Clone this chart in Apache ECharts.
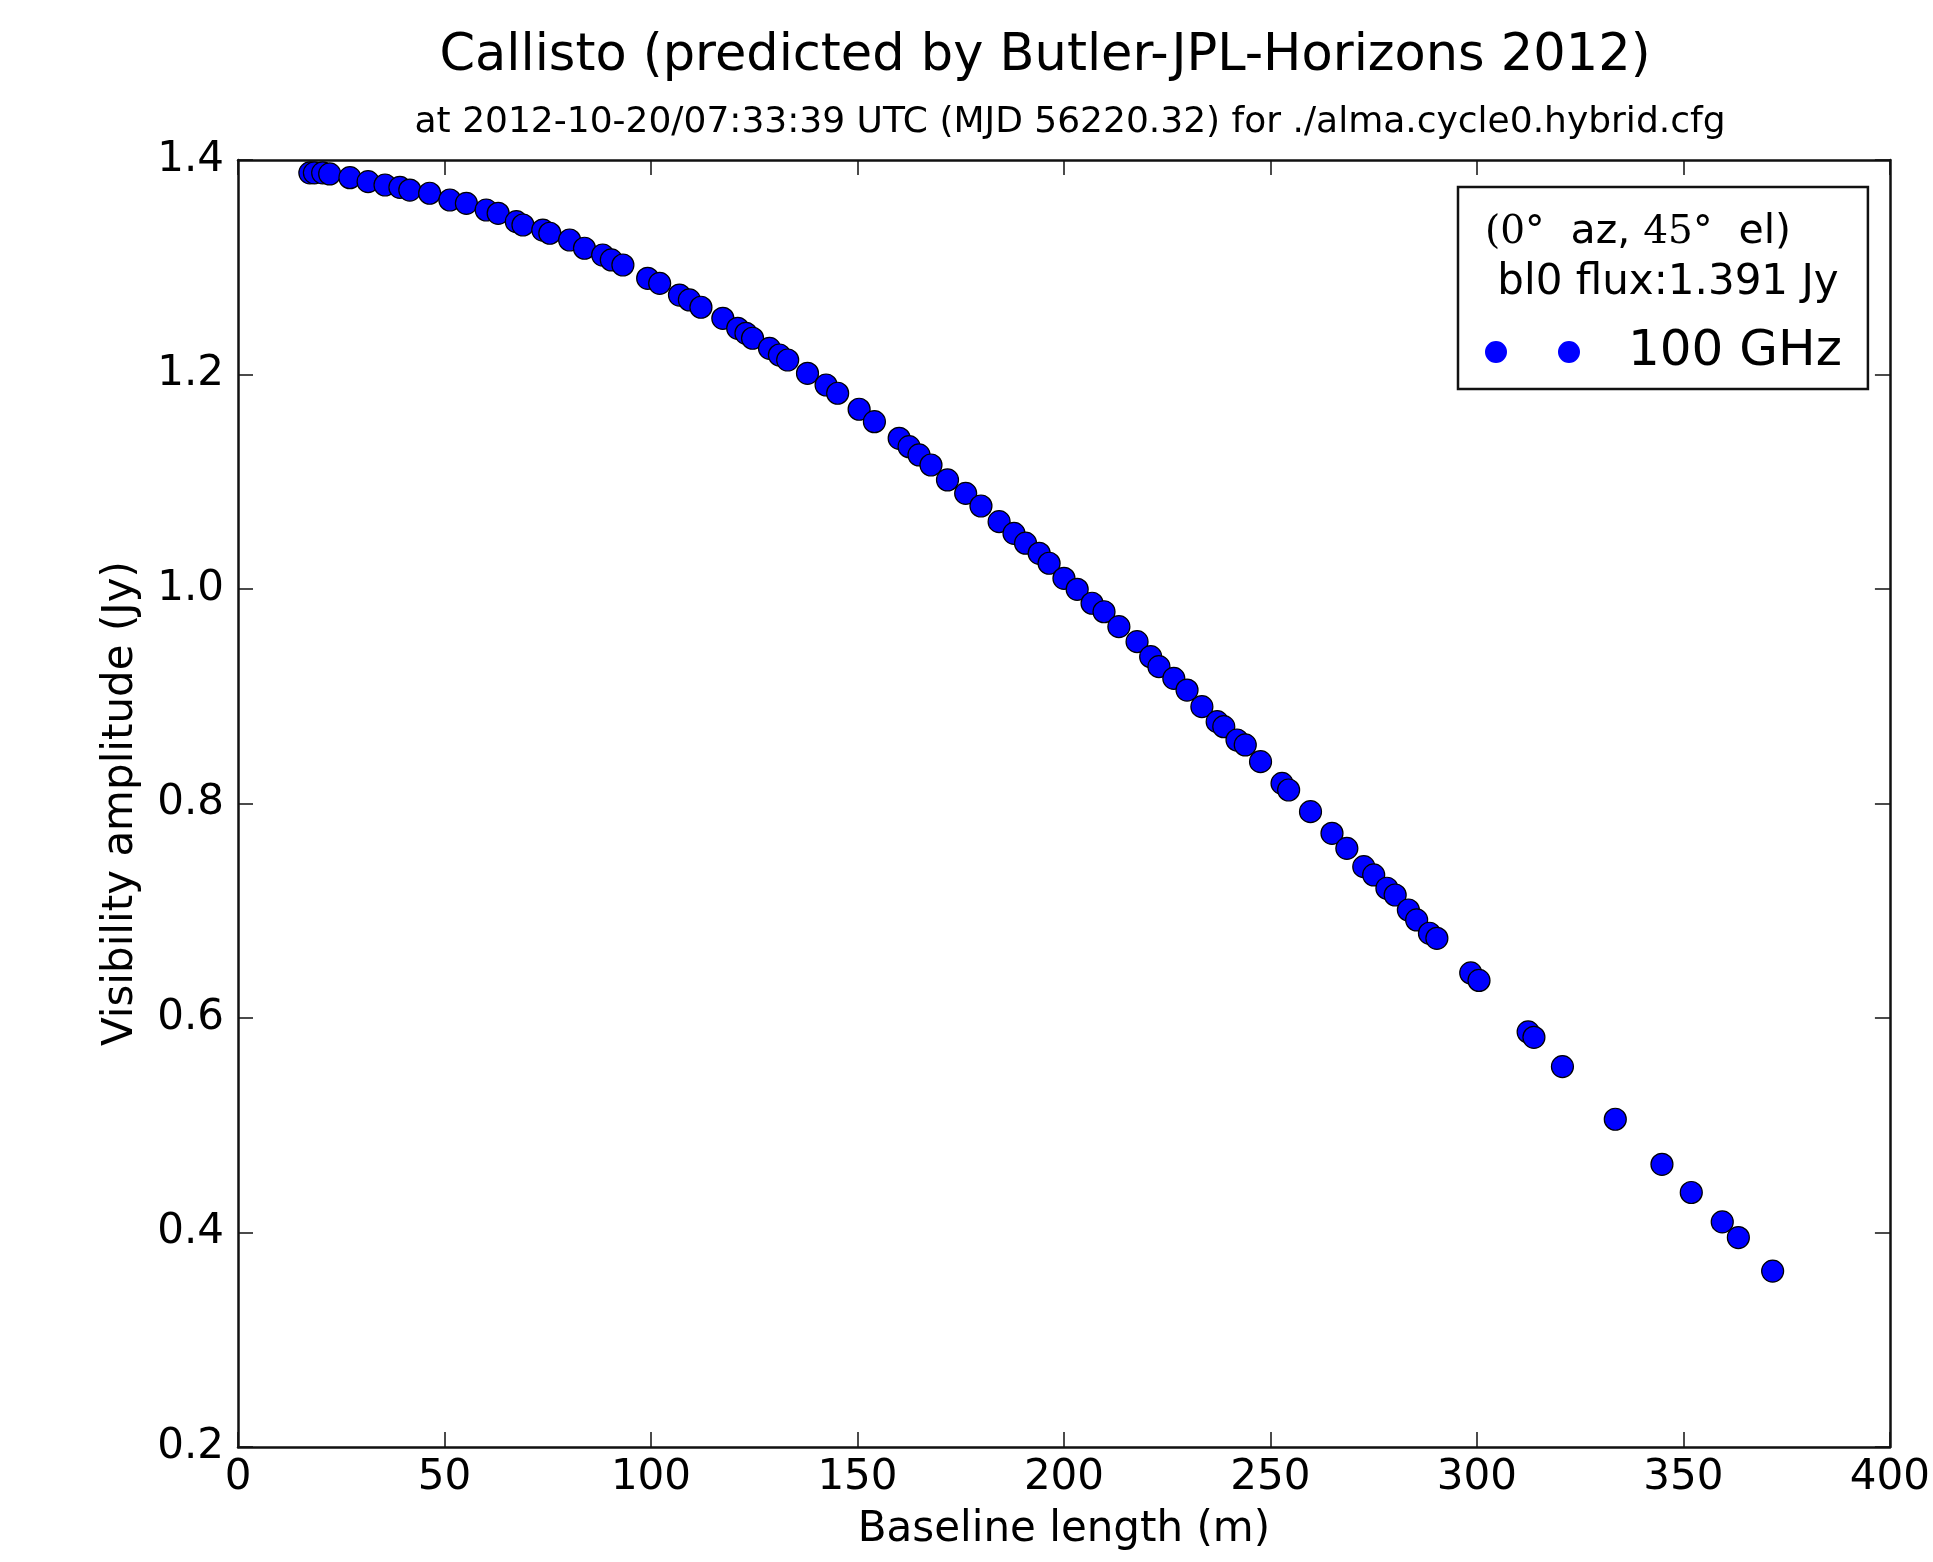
<!DOCTYPE html>
<html>
<head>
<meta charset="utf-8">
<script src="https://cdn.jsdelivr.net/npm/echarts@6/dist/echarts.min.js"></script>
<style>html,body{margin:0;padding:0;background:#fff}#c{width:1933px;height:1562px}</style>
</head>
<body>
<div id="c"></div>
<script>
// Baseline length (m)
const baselines = [17.4, 18.5, 20.5, 22.2, 27.1, 31.5, 35.6, 39.2, 41.6, 46.4, 51.3, 55.3, 60.1, 63.0, 67.4, 69.0, 73.8, 75.5, 80.3, 83.9,
  88.3, 90.4, 93.2, 99.2, 102.1, 106.9, 109.3, 112.1, 117.4, 121.0, 123.0, 124.6, 128.7, 131.1, 133.1, 137.9, 142.4, 145.2, 150.4, 154.1,
  160.1, 162.5, 164.9, 167.8, 171.8, 176.2, 179.9, 184.3, 187.9, 190.7, 194.0, 196.4, 200.0, 203.2, 206.8, 209.7, 213.3, 217.7,
  221.0, 223.0, 226.6, 229.8, 233.4, 237.1, 238.7, 241.9, 243.9, 247.6, 252.8, 254.4, 259.7, 264.9, 268.5, 272.6, 275.0, 278.2, 280.2,
  283.4, 285.4, 288.5, 290.3,
  298.5, 300.5, 312.4, 313.8, 320.7, 333.5, 344.8, 351.9, 359.4, 363.3, 371.6];
// Visibility amplitude (Jy)
const amplitudes = [1.388, 1.388, 1.388, 1.387, 1.3835, 1.3798, 1.3767, 1.3745, 1.372, 1.369, 1.3627, 1.3596, 1.3534, 1.3503, 1.3425, 1.3394, 1.3347, 1.3317, 1.3254, 1.3177,
  1.3114, 1.3068, 1.3021, 1.2897, 1.285, 1.2741, 1.2695, 1.2627, 1.2524, 1.2431, 1.2384, 1.2338, 1.2244, 1.2182, 1.2135, 1.2011, 1.1902, 1.1825, 1.1676, 1.156,
  1.1405, 1.1327, 1.125, 1.1156, 1.1017, 1.0892, 1.0774, 1.0628, 1.0519, 1.0427, 1.0333, 1.024, 1.01, 0.9997, 0.9867, 0.9788, 0.9649, 0.9509,
  0.9369, 0.9276, 0.9167, 0.9058, 0.8903, 0.8763, 0.8716, 0.8592, 0.8546, 0.839, 0.8188, 0.8126, 0.7924, 0.7722, 0.7582, 0.7411, 0.7334, 0.721, 0.7147,
  0.7007, 0.6914, 0.679, 0.6743,
  0.642, 0.635, 0.587, 0.582, 0.5547, 0.5056, 0.4636, 0.4373, 0.4099, 0.3953, 0.364];
const xTicks = ['0', '50', '100', '150', '200', '250', '300', '350', '400'];
const yTicks = ['0.2', '0.4', '0.6', '0.8', '1.0', '1.2', '1.4'];
const seriesName = '100 GHz';
const titleText = 'Callisto (predicted by Butler-JPL-Horizons 2012)';
const subtitleText = 'at 2012-10-20/07:33:39 UTC (MJD 56220.32) for ./alma.cycle0.hybrid.cfg';
const legendLine1 = ['(0°', '  az, ', '45°', '  el)'];
const legendLine2 = ' bl0 flux:1.391 Jy';

const points = baselines.map((b, i) => [b, amplitudes[i]]);
const FONT = 'DejaVu Sans';
const chart = echarts.init(document.getElementById('c'), null, {renderer: 'canvas'});

const axisCommon = {
  axisLine: {show: true, onZero: false, lineStyle: {color: '#111', width: 2.5}},
  axisTick: {show: true, inside: true, length: 15, lineStyle: {color: '#111', width: 1.5}},
  splitLine: {show: false}
};

chart.setOption({
  animation: false,
  backgroundColor: '#fff',
  title: [
    {text: titleText, left: 1040, top: 26, textAlign: 'center',
     textStyle: {fontFamily: FONT, fontSize: 51, fontWeight: 'normal', color: '#000'}},
    {text: subtitleText, left: 1065, top: 100, textAlign: 'center',
     textStyle: {fontFamily: FONT, fontSize: 36, fontWeight: 'normal', color: '#000'}}
  ],
  grid: {left: 238, right: 41, top: 160, bottom: 115, containLabel: false},
  xAxis: [
    Object.assign({}, axisCommon, {
      type: 'value', position: 'bottom', min: 0, max: 400, interval: 50,
      name: 'Baseline length (m)', nameLocation: 'middle', nameGap: 62,
      nameTextStyle: {fontFamily: FONT, fontSize: 42, color: '#000'},
      axisLabel: {margin: 10, fontFamily: FONT, fontSize: 42, color: '#000',
        formatter: (v) => xTicks[Math.round(v / 50)]}
    }),
    Object.assign({}, axisCommon, {
      type: 'value', position: 'top', min: 0, max: 400, interval: 50,
      axisLabel: {show: false}
    })
  ],
  yAxis: [
    Object.assign({}, axisCommon, {
      type: 'value', position: 'left', min: 0.2, max: 1.4, interval: 0.2,
      name: 'Visibility amplitude (Jy)', nameLocation: 'middle', nameGap: 96,
      nameTextStyle: {fontFamily: FONT, fontSize: 42, color: '#000'},
      axisLabel: {margin: 14, fontFamily: FONT, fontSize: 42, color: '#000',
        formatter: (v) => yTicks[Math.round((v - 0.2) / 0.2)]}
    }),
    Object.assign({}, axisCommon, {
      type: 'value', position: 'right', min: 0.2, max: 1.4, interval: 0.2,
      axisLabel: {show: false}
    })
  ],
  legend: {
    data: [seriesName],
    left: 1458, top: 187,
    orient: 'vertical',
    padding: [140, 26, 12, 27],
    backgroundColor: '#fff',
    borderColor: '#111', borderWidth: 2.5, borderRadius: 0,
    itemWidth: 95, itemHeight: 22,
    icon: 'path://M0,11a11,11 0 1,0 22,0a11,11 0 1,0 -22,0zM73,11a11,11 0 1,0 22,0a11,11 0 1,0 -22,0z',
    itemStyle: {color: '#0000ff', borderWidth: 0},
    selectedMode: false,
    formatter: (name) => '{a|' + name + '}',
    textStyle: {fontFamily: FONT, fontSize: 50, color: '#000',
      rich: {a: {fontFamily: FONT, fontSize: 50, color: '#000', padding: [0, 0, 0, 43]}}}
  },
  graphic: [
    {type: 'text', z: 100, left: 1485, top: 212,
     style: {text: '{s|' + legendLine1[0] + '}{n|' + legendLine1[1] + '}{s|' + legendLine1[2] + '}{n|' + legendLine1[3] + '}',
       rich: {s: {fontFamily: 'DejaVu Serif', fontSize: 39, fill: '#000'},
              n: {fontFamily: FONT, fontSize: 41, fill: '#000'}}}},
    {type: 'text', z: 100, left: 1484, top: 262,
     style: {text: legendLine2, font: '42px "DejaVu Sans"', fill: '#000'}}
  ],
  series: [{
    name: seriesName,
    type: 'scatter',
    xAxisIndex: 0, yAxisIndex: 0,
    data: points,
    symbol: 'circle',
    symbolSize: 22,
    itemStyle: {color: '#0000ff', borderColor: '#000', borderWidth: 1.2, opacity: 1},
    emphasis: {disabled: true}
  }]
});
</script>
</body>
</html>
